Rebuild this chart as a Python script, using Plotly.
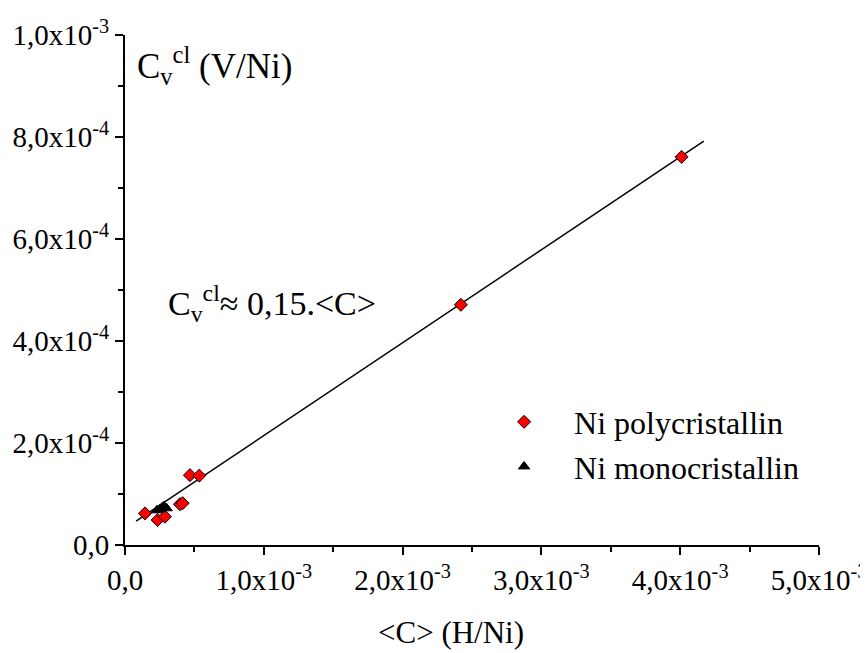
import plotly.graph_objects as go

# Data
poly_x = [4.01e-3, 2.42e-3, 0.468e-3, 0.535e-3, 0.144e-3, 0.235e-3, 0.288e-3, 0.396e-3, 0.415e-3]
poly_y = [7.61e-4, 4.71e-4, 1.37e-4, 1.36e-4, 0.62e-4, 0.49e-4, 0.555e-4, 0.80e-4, 0.82e-4]
mono_x = [0.23e-3, 0.25e-3, 0.265e-3, 0.28e-3, 0.30e-3]
mono_y = [0.68e-4, 0.70e-4, 0.73e-4, 0.76e-4, 0.72e-4]
fit_x = [0.08e-3, 4.17e-3]
fit_y = [0.47e-4, 7.92e-4]

x_tickvals = [0, 1e-3, 2e-3, 3e-3, 4e-3, 5e-3]
x_ticktext = ["0,0", "1,0x10<sup>-3</sup>", "2,0x10<sup>-3</sup>", "3,0x10<sup>-3</sup>",
              "4,0x10<sup>-3</sup>", "5,0x10<sup>-3</sup>"]
x_minor = [0.5e-3, 1.5e-3, 2.5e-3, 3.5e-3, 4.5e-3]
y_tickvals = [0, 2e-4, 4e-4, 6e-4, 8e-4, 1e-3]
y_ticktext = ["0,0", "2,0x10<sup>-4</sup>", "4,0x10<sup>-4</sup>", "6,0x10<sup>-4</sup>",
              "8,0x10<sup>-4</sup>", "1,0x10<sup>-3</sup>"]
y_minor = [1e-4, 3e-4, 5e-4, 7e-4, 9e-4]

FONT = "Liberation Serif"

fig = go.Figure()
fig.add_trace(go.Scatter(x=fit_x, y=fit_y, mode="lines", line=dict(color="black", width=1.5),
                         showlegend=False, hoverinfo="skip"))
fig.add_trace(go.Scatter(x=poly_x, y=poly_y, mode="markers", name="Ni polycristallin",
                         marker=dict(symbol="diamond", size=10, color="#ff0000",
                                     line=dict(color="black", width=1))))
fig.add_trace(go.Scatter(x=mono_x, y=mono_y, mode="markers", name="Ni monocristallin",
                         marker=dict(symbol="triangle-up", size=10, color="black",
                                     line=dict(color="black", width=1))))

axis_common = dict(showline=True, linecolor="black", linewidth=2, showgrid=False, zeroline=False,
                   ticks="outside", ticklen=8, tickwidth=2, tickcolor="black", automargin=False,
                   tickfont=dict(family=FONT, size=29, color="black"))

fig.update_layout(
    width=860, height=645,
    margin=dict(l=117, r=49, t=27, b=108),
    paper_bgcolor="white", plot_bgcolor="white",
    font=dict(family=FONT, color="black"),
    xaxis=dict(range=[0, 5e-3], tickmode="array", tickvals=x_tickvals, ticktext=x_ticktext,
               minor=dict(tickvals=x_minor, ticks="outside", ticklen=5, tickwidth=2, tickcolor="black"),
               **axis_common),
    yaxis=dict(range=[0, 1e-3], tickmode="array", tickvals=y_tickvals, ticktext=y_ticktext,
               minor=dict(tickvals=y_minor, ticks="outside", ticklen=5, tickwidth=2, tickcolor="black"),
               **axis_common),
    legend=dict(x=0.503, y=0.197, xanchor="left", yanchor="middle", bgcolor="rgba(0,0,0,0)",
                font=dict(family=FONT, size=32, color="black"), itemwidth=90, tracegroupgap=0),
    annotations=[
        dict(text="C<sub>v</sub><sup>cl</sup> (V/Ni)", xref="paper", yref="paper", x=0.015, y=0.941,
             xanchor="left", yanchor="middle", showarrow=False,
             font=dict(family=FONT, size=35, color="black")),
        dict(text="C<sub>v</sub><sup>cl</sup>\u2248 0,15.&lt;C&gt;", xref="paper", yref="paper",
             x=0.059, y=0.474, xanchor="left", yanchor="middle", showarrow=False,
             font=dict(family=FONT, size=34, color="black")),
        dict(text="&lt;C&gt; (H/Ni)", xref="paper", yref="paper", x=0.47, y=-0.172,
             xanchor="center", yanchor="middle", showarrow=False,
             font=dict(family=FONT, size=31, color="black")),
    ],
)

fig.write_html("out.html")
